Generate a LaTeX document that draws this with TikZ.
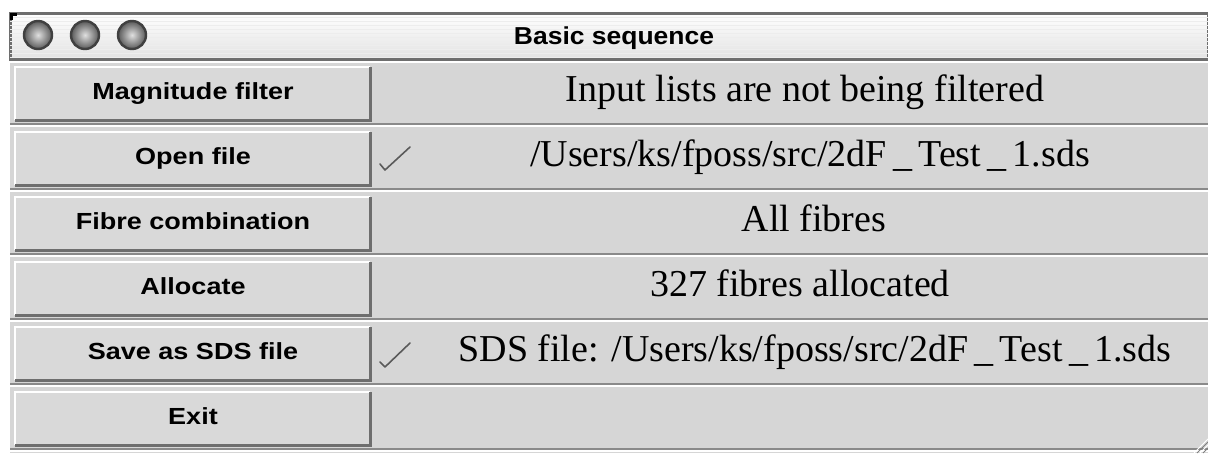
\documentclass[tikz,border=0pt]{standalone}
\usepackage{fontspec}
\setmainfont{Liberation Serif}
\newfontfamily\uisans[FakeStretch=1.16]{Liberation Sans}
\newfontfamily\titlesans[FakeStretch=1.08]{Liberation Sans}
\newcommand{\spus}{\,\_\,}
\definecolor{winbg}{HTML}{D6D6D6}
\definecolor{btnbg}{HTML}{D9D9D9}
\definecolor{shadow}{HTML}{6E6E6E}
\definecolor{sepdark}{HTML}{8A8A8A}
\definecolor{titlelo}{HTML}{E2E2E2}
\definecolor{checkc}{HTML}{5A5A5A}
\tikzset{
  btnlabel/.style={font=\uisans\bfseries\fontsize{23.3}{26}\selectfont, text=black, anchor=base, inner sep=0pt},
  infotext/.style={font=\fontsize{38}{42}\selectfont, text=black, anchor=base, inner sep=0pt},
  btnface/.style={fill=btnbg, draw=none},
  hilite/.style={draw=white, line width=2.5pt},
  shade/.style={draw=shadow, line width=3pt},
  tick/.style={draw=checkc, line width=1.6pt, line cap=round, line join=round},
  light/.style={circle, minimum size=28pt, inner sep=0pt, draw=black!75, line width=2.4pt, inner color=white!75!gray, outer color=gray!70!black},
}
\begin{document}
\begin{tikzpicture}[x=1pt,y=-1pt]
\useasboundingbox (0,0) rectangle (1208,459);
\fill[white] (0,0) rectangle (1208,459);
% window body
\fill[winbg] (10,60) rectangle (1208,453);
% title bar
\shade[top color=white, bottom color=titlelo] (10,13) rectangle (1208,59);
\foreach \yy in {17,21,...,57} {\draw[white!86!gray, line width=0.8pt] (10,\yy) -- (1208,\yy);}
\draw[shadow, line width=1.5pt] (10,59) -- (1208,59);
\fill[black] (10,13) rectangle (13,20);
\fill[black] (10,13) rectangle (17,16);
\node[light] (l1) at (38,35) {};
\node[light] (l2) at (85,35) {};
\node[light] (l3) at (132,35) {};
\node[font=\titlesans\bfseries\fontsize{24.5}{27}\selectfont, anchor=base, inner sep=0pt] (title) at (614,44.3) {Basic sequence};
% rows
\foreach \k in {1,...,6} {
  \pgfmathsetmacro{\ys}{60+65*\k}
  \draw[sepdark, line width=2pt] (10,\ys-1) -- (1208,\ys-1);
  \draw[white, line width=1.5pt] (10,\ys+1) -- (1208,\ys+1);
}
\draw[white, line width=1.5pt] (10,62) -- (1208,62);
% buttons
\foreach \k/\lab in {0/Magnitude filter,1/Open file,2/Fibre combination,3/Allocate,4/Save as SDS file,5/Exit} {
  \pgfmathsetmacro{\yt}{60+65*\k+7}
  \pgfmathsetmacro{\yb}{60+65*\k+60}
  \pgfmathsetmacro{\ybase}{60+65*\k+39.3}
  \fill[btnface] (15,\yt) rectangle (370,\yb);
  \draw[hilite] (15,\yb) -- (15,\yt) -- (370,\yt);
  \draw[shade] (15,\yb) -- (370,\yb) -- (370,\yt);
  \node[btnlabel] (b\k) at (193,\ybase) {\lab};
}
% info texts
\node[infotext] (t0) at (805,101.7) {Input lists are not being filtered};
\node[infotext] (t1) at (810,166.7) {/Users/ks/fposs/src/2dF\spus Test\spus 1.sds};
\node[infotext] (t2) at (814,231.7) {All fibres};
\node[infotext] (t3) at (800,296.7) {327 fibres allocated};
\node[infotext] (t4) at (815,361.7) {SDS file: /Users/ks/fposs/src/2dF\spus Test\spus 1.sds};
% check marks
\draw[tick] (380,164) -- (385,170) -- (410,147);
\draw[tick] (380,362) -- (385,367) -- (410,343);
% resize grip
\draw[white, line width=1pt] (1194,453) -- (1208,439);
\draw[gray, line width=1pt] (1197,453) -- (1208,442);
\draw[white, line width=1pt] (1200,453) -- (1208,445);
\draw[gray, line width=1pt] (1203,453) -- (1208,448);
\end{tikzpicture}
\end{document}
